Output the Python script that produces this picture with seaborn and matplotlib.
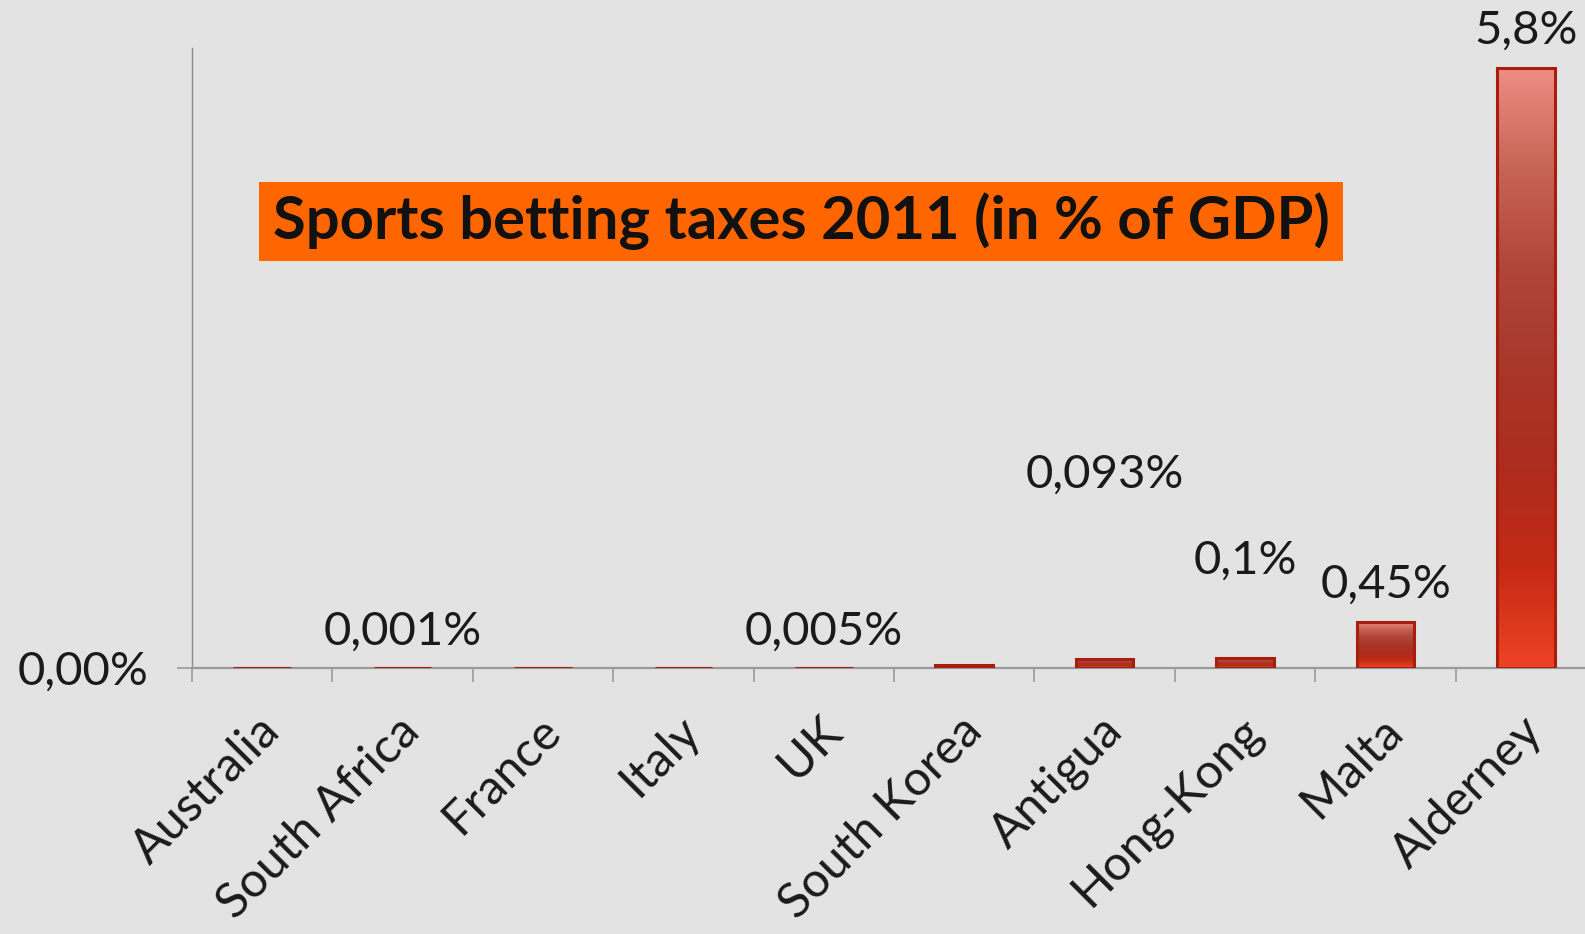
import numpy as np
import pandas as pd
import matplotlib
matplotlib.use("Agg")
import matplotlib.pyplot as plt
import seaborn as sns
from matplotlib.colors import LinearSegmentedColormap
from matplotlib.patches import Rectangle
from matplotlib.ticker import FixedLocator
import matplotlib.transforms as mtransforms

# ---------------- data ----------------
countries = ["Australia", "South Africa", "France", "Italy", "UK",
             "South Korea", "Antigua", "Hong-Kong", "Malta", "Alderney"]
values = [0.002, 0.001, 0.002, 0.002, 0.005, 0.03, 0.093, 0.1, 0.45, 5.8]
value_labels = ["", "0,001%", "", "", "0,005%", "", "0,093%", "0,1%", "0,45%", "5,8%"]
ytick_values = [0]
ytick_labels = ["0,00%"]
title = "Sports betting taxes 2011 (in % of GDP)"

# ---------------- layout / style ----------------
label_y = [None, 0.35, None, None, 0.35, None, 1.87, 1.04, 0.81, 6.16]
BG = "#e3e3e3"
grad_colors = ["#ef8c84", "#c86454", "#b04638", "#a8372a", "#ad2c1e", "#c42a14", "#ee4224"]
TXT_WEIGHT = "normal"

sns.set_theme(style="white")
plt.rcParams["font.family"] = ["Lato", "DejaVu Sans"]

fig = plt.figure(figsize=(15.85, 9.34), dpi=100, facecolor=BG)
ax = fig.add_axes([0.121, 0.2846, 0.879, 0.949 - 0.2846])
ax.set_facecolor(BG)

df = pd.DataFrame({"country": countries, "value": values})
sns.barplot(data=df, x="country", y="value", ax=ax, width=0.41,
            color="#b03020", saturation=1, edgecolor="#a81e0e", linewidth=2.2)

cmap = LinearSegmentedColormap.from_list("bar", grad_colors)
grad = np.linspace(0, 1, 256).reshape(-1, 1)
for p in list(ax.patches):
    x0, y0 = p.get_x(), p.get_y()
    w, h = p.get_width(), p.get_height()
    im = ax.imshow(grad, extent=[x0, x0 + w, y0, y0 + h], origin="upper",
                   aspect="auto", cmap=cmap, zorder=2, interpolation="bilinear")
    im.set_clip_path(p)
    p.set_facecolor("none")
    p.set_zorder(3)

ax.set_xlim(-0.5, 9.42)
ax.set_ylim(0, 6)

# value labels
for i, (lab, ly) in enumerate(zip(value_labels, label_y)):
    if lab:
        ax.text(i, ly, lab, ha="center", va="center", fontsize=34,
                fontweight=TXT_WEIGHT, color="#1a1a1a", clip_on=False)

# axes styling
for s in ["top", "right"]:
    ax.spines[s].set_visible(False)
ax.spines["left"].set_color("#8c8c8c")
ax.spines["left"].set_linewidth(1.0)
ax.spines["bottom"].set_color("#9a9a9a")
ax.spines["bottom"].set_linewidth(1.6)

ax.set_yticks(ytick_values)
ax.set_yticklabels(ytick_labels, fontweight=TXT_WEIGHT)
ax.tick_params(axis="y", length=11, width=1.2, color="#9a9a9a", pad=20,
               labelsize=34, labelcolor="#1a1a1a", left=True)

ax.set_xticks(range(len(countries)))
ax.set_xticklabels(countries, rotation=45, ha="right", va="center",
                   rotation_mode="anchor", fontsize=35, color="#1a1a1a",
                   fontweight=TXT_WEIGHT)
ax.xaxis.set_minor_locator(FixedLocator(np.arange(-0.5, len(countries) - 0.5, 1.0)))
ax.tick_params(axis="x", which="major", length=0, pad=40, bottom=True)
ax.tick_params(axis="x", which="minor", length=10, width=1.2, color="#9a9a9a", bottom=True)
ax.set_xlabel("")
ax.set_ylabel("")

offset = mtransforms.ScaledTranslation(10 / 100, 0, fig.dpi_scale_trans)
for lbl in ax.get_xticklabels():
    lbl.set_transform(lbl.get_transform() + offset)

# title box
bx0, by0, bw, bh = 256 / 1568, 1 - 258 / 924, 1073 / 1568, 78 / 924
fig.patches.append(Rectangle((bx0, by0), bw, bh, transform=fig.transFigure,
                             facecolor="#ff6600", edgecolor="none", zorder=5))
fig.text(bx0 + bw / 2, by0 + bh / 2, title, ha="center", va="center",
         fontsize=43, fontweight="bold", color="#111111", zorder=6)

fig.savefig("out.png", dpi=100, facecolor=BG)
